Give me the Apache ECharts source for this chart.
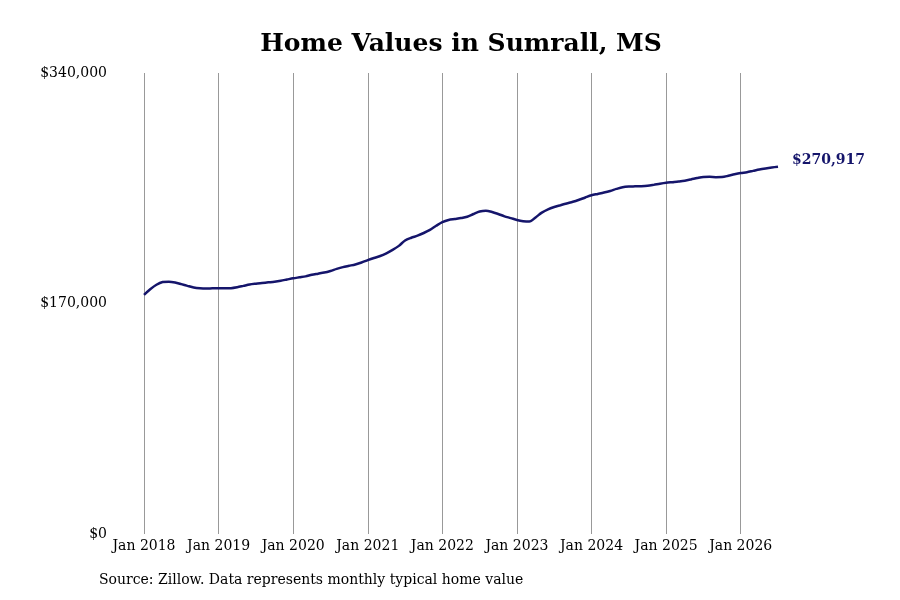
<!DOCTYPE html>
<html>
<head>
<meta charset="utf-8">
<script src="https://cdn.jsdelivr.net/npm/echarts@6/dist/echarts.min.js"></script>
<style>
  html, body { margin: 0; padding: 0; background: #fff; }
  #chart { width: 900px; height: 600px; }
</style>
</head>
<body>
<div id="chart"></div>
<script>
// monthly typical home values, Jan 2018 .. Jul 2026
var startYear = 2018;
var values = [
  176300, 180500, 183800, 185800, 186100, 185500, 184300, 183000, 181800, 181200, 181000, 181200,
  181300, 181200, 181300, 182000, 183000, 184000, 184600, 185100, 185600, 186100, 186800, 187700,
  188600, 189300, 190000, 191200, 192000, 192800, 194000, 195500, 196800, 197800, 198800, 200200,
  202000, 203600, 205000, 207000, 209500, 212500, 216500, 218500, 220000, 222000, 224300, 227300,
  230000, 231600, 232300, 233000, 234000, 236000, 237800, 238400, 237500, 236000, 234300, 233000,
  231600, 230700, 230400, 233500, 237000, 239500, 241200, 242500, 243800, 245000, 246500, 248200,
  249800, 250800, 251800, 253000, 254500, 255800, 256300, 256400, 256500, 256800, 257500, 258300,
  259000, 259500, 260000, 260600, 261500, 262500, 263300, 263400, 263200, 263300, 264200, 265300,
  266200, 266800, 267800, 268800, 269600, 270300, 270917
];
var monthNames = ['Jan','Feb','Mar','Apr','May','Jun','Jul','Aug','Sep','Oct','Nov','Dec'];
var months = values.map(function (v, i) {
  return monthNames[i % 12] + ' ' + (startYear + Math.floor(i / 12));
});
var yTicks = [0, 170000, 340000];

var font = '"DejaVu Serif", serif';
function money(v) {
  return '$' + Math.round(v).toString().replace(/\B(?=(\d{3})+(?!\d))/g, ',');
}
function isJan(i) { return i % 12 === 0; }

var chart = echarts.init(document.getElementById('chart'));

var option = {
  backgroundColor: '#fff',
  animation: false,
  title: {
    text: 'Home Values in Sumrall, MS',
    left: 456,
    textAlign: 'center',
    top: 27,
    textStyle: { fontFamily: font, fontSize: 25, fontWeight: 'bold', color: '#000' }
  },
  graphic: [{
    type: 'text',
    left: 99,
    top: 573,
    style: {
      text: 'Source: Zillow. Data represents monthly typical home value',
      fontFamily: font, fontSize: 14, fill: '#000'
    }
  }],
  grid: { left: 144, right: 122, top: 73, bottom: 66 },
  xAxis: {
    type: 'category',
    data: months,
    boundaryGap: false,
    axisLine: { show: false },
    axisTick: { show: false },
    axisLabel: {
      interval: function (i) { return isJan(i); },
      fontFamily: font, fontSize: 14, color: '#000', margin: 5
    },
    splitLine: {
      show: true,
      interval: function (i) { return isJan(i); },
      lineStyle: { color: '#999', width: 1 }
    }
  },
  yAxis: {
    type: 'value',
    min: yTicks[0],
    max: yTicks[yTicks.length - 1],
    interval: yTicks[1] - yTicks[0],
    axisLine: { show: false },
    axisTick: { show: false },
    splitLine: { show: false },
    axisLabel: {
      formatter: money,
      fontFamily: font, fontSize: 14, color: '#000', margin: 37
    }
  },
  series: [{
    type: 'line',
    data: values,
    smooth: 0.3,
    symbol: 'none',
    lineStyle: { color: '#15156b', width: 2.5 },
    endLabel: {
      show: true,
      formatter: function (p) { return money(p.value); },
      fontFamily: font, fontSize: 14, fontWeight: 'bold', color: '#15156b',
      distance: 14,
      offset: [0, -6]
    }
  }]
};

chart.setOption(option);
</script>
</body>
</html>
